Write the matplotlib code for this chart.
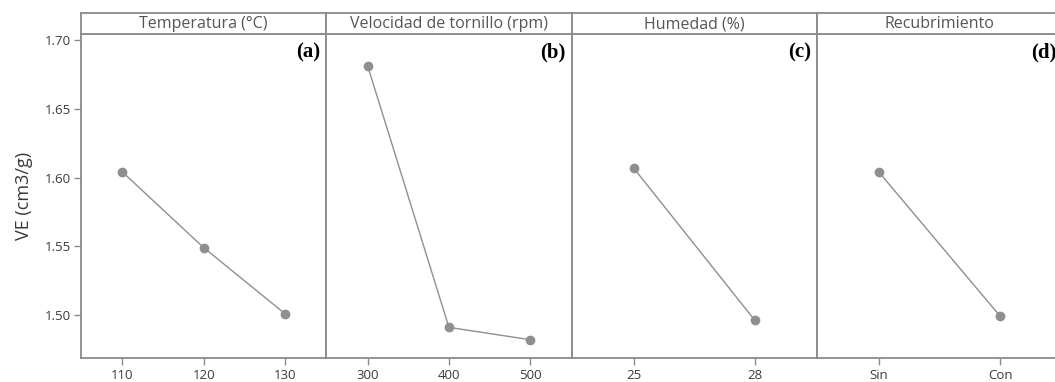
import matplotlib
matplotlib.use("Agg")
import matplotlib.pyplot as plt

# factor levels and mean VE for each factor
titles = ["Temperatura (°C)", "Velocidad de tornillo (rpm)", "Humedad (%)", "Recubrimiento"]
tags = ["(a)", "(b)", "(c)", "(d)"]
temp_levels = ["110", "120", "130"]
temp_ve = [1.604, 1.549, 1.501]
speed_levels = ["300", "400", "500"]
speed_ve = [1.681, 1.491, 1.482]
hum_levels = ["25", "28"]
hum_ve = [1.607, 1.496]
coat_levels = ["Sin", "Con"]
coat_ve = [1.604, 1.499]

levels = [temp_levels, speed_levels, hum_levels, coat_levels]
values = [temp_ve, speed_ve, hum_ve, coat_ve]

W, H = 1055, 382
fig = plt.figure(figsize=(W / 100, H / 100), dpi=100)

frame_col = "#8a8a8a"
mark_col = "#8f8f8f"
txt_col = "#3a3a3a"
font = "Open Sans"

left, panel_w = 81, 245.3
ax_top, ax_bot, strip_top = 34, 358, 13

for i in range(4):
    x0 = left + i * panel_w
    ax = fig.add_axes([x0 / W, (H - ax_bot) / H, panel_w / W, (ax_bot - ax_top) / H])
    n = len(levels[i])
    pos = list(range(n))
    ax.plot(pos, values[i], color=mark_col, lw=1.0, marker="o", ms=6,
            mfc=mark_col, mec=mark_col)
    ax.set_xlim(-0.51, n - 1 + 0.51)
    ax.set_ylim(1.4687, 1.7044)
    ax.set_xticks(pos)
    ax.set_xticklabels(levels[i], fontfamily=font, fontsize=9.5, color=txt_col)
    for s in ax.spines.values():
        s.set_color(frame_col)
        s.set_linewidth(1.3)
    ax.tick_params(axis="x", length=5, width=1, color=frame_col, pad=3)
    if i == 0:
        ax.set_yticks([1.50, 1.55, 1.60, 1.65, 1.70])
        ax.set_yticklabels(["1.50", "1.55", "1.60", "1.65", "1.70"],
                           fontfamily=font, fontsize=9.5, color=txt_col)
        ax.tick_params(axis="y", length=5, width=1, color=frame_col, pad=2)
        ax.set_ylabel("VE (cm3/g)", fontfamily=font, fontsize=13, color=txt_col, labelpad=9)
    else:
        ax.set_yticks([])
    ax.text(0.976, 0.975, tags[i], transform=ax.transAxes, ha="right", va="top",
            fontfamily="Liberation Serif", fontweight="bold", fontsize=15, color="black")

    # header strip with the factor name
    st = fig.add_axes([x0 / W, (H - ax_top) / H, panel_w / W, (ax_top - strip_top) / H])
    st.set_xticks([])
    st.set_yticks([])
    for s in st.spines.values():
        s.set_color(frame_col)
        s.set_linewidth(1.3)
    st.text(0.5, 0.47, titles[i], transform=st.transAxes, ha="center", va="center",
            fontfamily=font, fontsize=11.5, color="#555555")

fig.savefig("out.png", dpi=100)
